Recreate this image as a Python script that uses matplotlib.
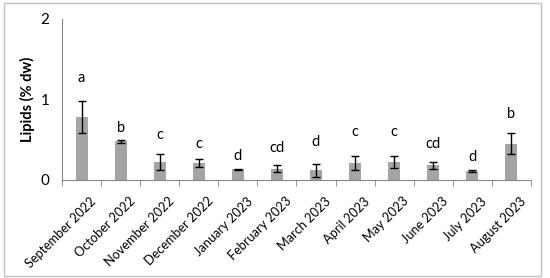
import matplotlib
matplotlib.use("Agg")
import matplotlib.pyplot as plt
from matplotlib.patches import Rectangle
from matplotlib.transforms import ScaledTranslation
import numpy as np

plt.rcParams["font.family"] = ["Lato", "DejaVu Sans"]

# Monthly lipid content with standard deviation and significance letters
months = ["September 2022", "October 2022", "November 2022", "December 2022",
          "January 2023", "February 2023", "March 2023", "April 2023",
          "May 2023", "June 2023", "July 2023", "August 2023"]
lipids = [0.78, 0.48, 0.22, 0.21, 0.13, 0.14, 0.12, 0.21, 0.22, 0.18, 0.11, 0.45]
err = [0.20, 0.02, 0.10, 0.055, 0.01, 0.04, 0.08, 0.09, 0.075, 0.045, 0.01, 0.13]
letters = ["a", "b", "c", "c", "d", "cd", "d", "c", "c", "cd", "d", "b"]
letter_y = [1.26, 0.65, 0.56, 0.45, 0.30, 0.39, 0.47, 0.60, 0.59, 0.45, 0.28, 0.82]

fig = plt.figure(figsize=(5.5, 2.78), dpi=100)
ax = fig.add_axes([0.113, 0.353, 0.852, 0.579])

x = np.arange(len(months))
ax.bar(x, lipids, width=0.31, color="#a5a5a5", zorder=2)
ax.errorbar(x, lipids, yerr=err, fmt="none", ecolor="black",
            elinewidth=1, capsize=3, capthick=1, zorder=3)

#Significance letters
for xi, yi, lab in zip(x, letter_y, letters):
    ax.text(xi, yi, lab, ha="center", va="center", fontsize=10.5)

ax.set_xlim(-0.5, len(months) - 0.5)
ax.set_ylim(0, 2)
ax.set_yticks([0, 1, 2])
ax.set_yticklabels(["0", "1", "2"], fontsize=11)
ax.tick_params(axis="y", length=0, pad=9)

ax.set_xticks(x)
ax.set_xticklabels(months, rotation=45, ha="right", va="top",
                   rotation_mode="anchor", fontsize=9.2)
ax.set_xticks(np.arange(len(months) + 1) - 0.5, minor=True)
ax.tick_params(axis="x", which="major", length=0, pad=11)
ax.tick_params(axis="x", which="minor", length=4, color="#868686")

#Shift the rotated labels so their upper end sits under the bar
shift = ScaledTranslation(6 / 72, 0, fig.dpi_scale_trans)
for lab in ax.get_xticklabels():
    lab.set_transform(lab.get_transform() + shift)

for side in ["top", "right"]:
    ax.spines[side].set_visible(False)
ax.spines["left"].set_color("#868686")
ax.spines["bottom"].set_color("#868686")

ax.set_ylabel("Lipids (% dw)", fontsize=10.5, fontweight="bold", labelpad=4)

#Outer border
fig.patches.append(Rectangle((0.007, 0.007), 0.977, 0.982, transform=fig.transFigure,
                             fill=False, edgecolor="#bfbfbf", linewidth=1))

fig.savefig("out.png", dpi=100)
